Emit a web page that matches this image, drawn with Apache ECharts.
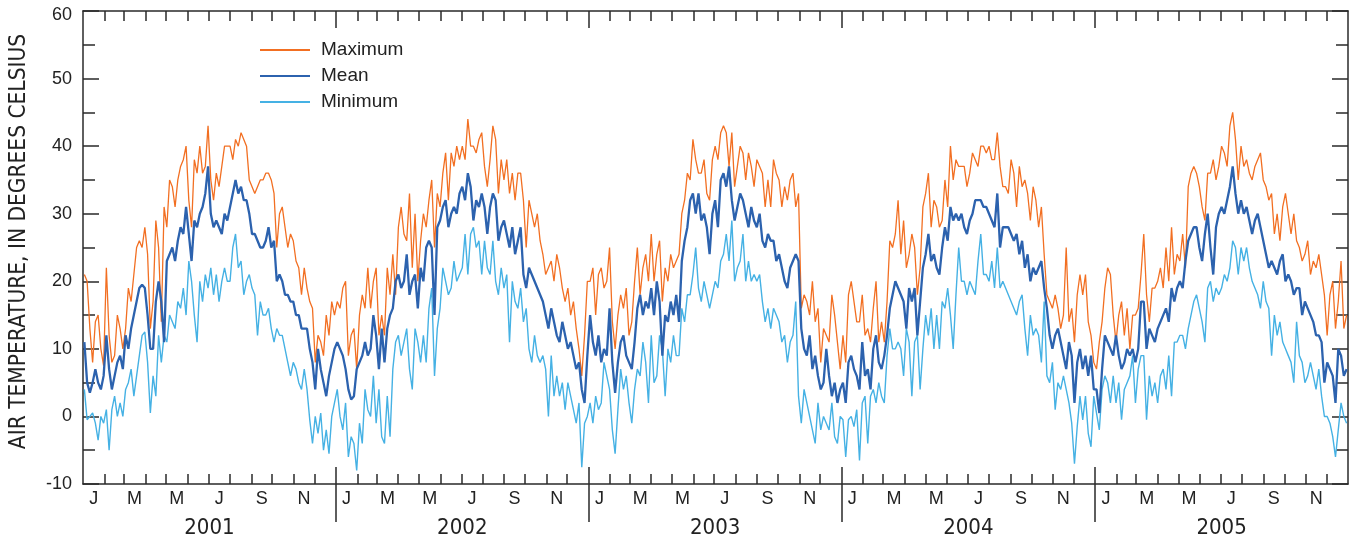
<!DOCTYPE html>
<html><head><meta charset="utf-8">
<script src="https://cdn.jsdelivr.net/npm/echarts@6/dist/echarts.min.js"></script>
<style>html,body{margin:0;padding:0;background:#fff}#c{width:1355px;height:541px}</style>
</head><body><div id="c"></div>
<script>
// ---- data (~4-day samples, evenly spaced through each year) ----
const years = [2001, 2002, 2003, 2004, 2005];
const monthLetters = ['J','F','M','A','M','J','J','A','S','O','N','D'];
const seriesNames = ['Maximum', 'Mean', 'Minimum'];

const max2001 = [21,20,13,8,14,15,10,7.5,22,12,8,9,15,13,10,13,19,17,21,25,26,25,28,24,13,17,29,25,14,31,28,35,34,31,35,37,38,40,32,28,38,36,40,36,37,43,35,32,36,34,37,40,40,40,38,41,40,42,41,40,35,34,33,34,35,35,36,36,35,33,25,30,31,28,25,27,26,23,22,18,22,19,17,16,8,12,11,9,15,12,17,15];
const mean2001 = [11,5,3.5,5,7,5,4,6,12,7,4,6,8,9,7,12,10,13,15,17,19,19.5,19,15,10,10,17,20,17,11,23,24,25,23,26,28,27,31,27,23,29,28,30,31,33,37,30,28,29,28,27,30,29,31,33,35,33,34,32,32,30,27,27,26,25,25,26,28,25,26,20,21,20,18,18,17,17,15,15,13,13,13,10,8,4,10,7,5,3,6,8,10];
const min2001 = [4,-0.5,0,0.5,-1,-3.5,0,-1,1,-5,1,3,0,2,0,4,5,7,3,6,9,12,12.5,8,0.5,6,3,12,8,12,11,15,14,13,17,16,19,15,23,20,15,11,20,17,21,19,22,18,21,17,20,22,20,20,25,27,22,23,18,20,21,19,18,12,17,15,15,16,13,11,13,12,12,10,8,6,8,7,5,4,7,4,-0.5,-4,0,-2.5,0.5,-5,-2,-5.5,0,2];

const max2002 = [17,16,19,20,9,12,13,7,15,18,16,22,16,20,22,12,15,12,22,18,24,18,28,31,27,26,33,22,30,20,26,30,28,32,35,25,33,31,36,39,32,39,37,40,38,40,38,44,40,40,39,41,42,37,34,38,43,41,33,38,35,38,33,36,32,36,36,32,25,32,30,28,30,26,24,21,22,23,20,24,22,19,17,19,15,17,13,10,6,12,20];
const mean2002 = [11,10,9,7,4,2.5,3,7,8,9,11,9,10,15,12,7,13,8,13,15,16,20,21,19,20,24,18,20,21,16,22,20,25,26,25,15,28,29,31,32,28,30,31,30,33,34,32,36,34,29,32,31,33,31,27,31,33,32,26,28,29,27,25,28,24,26,28,21,19,22,21,20,19,18,17,15,13,16,14,12,11,14,12,10,11,9,7,8,4,2,9];
const min2002 = [4,0,-2,2,-6,-3,-4,-8,-1,-4,4,1,0,6,-1,4,-3,-4,3,-3,7,11,12,9,11,13,7,4,13,11,8,12,8,16,19,6,13,16,22,20,18,19,23,20,21,22,27,21,27,28,25,26,21,26,22,21,26,20,18,22,19,21,11,20,17,16,19,14,16,10,8,12,9,8,9,7,0,9,3,6,3,5,1,5,3,1,-1,2,-7.5,-1,0];

const max2003 = [20,22,15,21,22,19,20,25,14,10,15,18,16,19,12,14,20,25,18,22,24,20,27,20,24,26,17,22,20,24,22,23,24,30,32,36,35,41,38,36,36,38,33,32,38,40,38,42,43,42,37,42,34,37,40,39,35,39,37,34,38,37,36,31,35,31,38,36,35,31,34,32,35,36,31,33,16,18,17,15,20,14,16,8,13,12,11,18,15,11,7];
const mean2003 = [15,11,9,12,8,10,9,16,8,3.5,8,11,12,9,8,7,11,16,18,15,17,16,19,15,20,17,9,15,14,17,15,18,14,23,26,28,32,33,30,33,29,30,28,24,30,32,28,35,36,34,37,32,29,31,33,32,30,28,31,29,28,30,26,25,27,26,26,23,24,22,20,19,22,23,24,23,13,10,9,12,7,9,6,4,5,10,6,3,5,2,4];
const min2003 = [2,-1,3,1,2,8,6,4,-2,-5.5,1,7,4,6,2,-1,4,7,6,11,8,2,12,5,6,12,10,3,10,8,12,9,9,16,14,18,18,21,25,19,17,20,18,16,18,20,19,23,24,27,23,29,20,22,23,27,20,23,20,21,20,21,17,14,16,13,16,15,14,11,12,8,11,12,17,3,-1,4,2,0,-2,-4,2,-2,0,-1,-2,2,-3,-4,0];

const max2004 = [12,8,18,20,17,14,14,18,12,13,11,16,20,11,14,11,17,26,25,27,32,24,29,22,24,27,25,18,22,31,33,36,28,32,31,28,29,35,31,40,35,38,37,37,37,34,36,39,38,37,40,40,39,40,38,38,42,37,34,34,33,38,36,31,37,34,35,33,29,34,32,28,31,24,18,17,16,18,16,13,15,25,14,16,11,18,21,18,21,14,12,8];
const mean2004 = [5,2,8,9,7,6,4,11,6,7,4,10,12,8,7,9,12,16,18,20,19,18,17,13,19,17,19,12,17,22,24,27,23,24,22,21,25,28,26,31,29,30,29,30,28,27,29,30,32,32,32,31,31,30,29,28,33,25,28,28,28,27,26,27,24,26,22,24,20,22,21,22,23,19,16,12,10,12,13,11,9,7,11,9,2,8,10,7,9,6,9,4];
const min2004 = [-0.5,-6,-0.5,0,-1.5,1,-6.5,2,3,-4,3,4,2,5,3,2,9,13,10,10,11,10,6,13,11,3,11,12,4,10,15,12,16,10,15,10,17,16,19,15,10,18,25,20,20,18,20,19,18,23,27,21,21,20,23,19,25,19,20,19,18,17,16,15,17,18,13,9,15,12,13,12,8,17,6,5,8,1,5,4,6,4,2,-1,-7,-1.5,3,-0.5,3,-2.5,-4.5,3];

const max2005 = [7,11,14,19,22,21,15,11,15,17,12,16,10,15,15,16,21,27,18,14,19,19,20,22,19,25,20,28,21,24,23,27,22,34,36,37,36,34,31,29,36,36,38,35,37,40,39,37,43,45,41,35,40,37,38,36,35,37,38,39,35,34,32,33,27,30,26,31,33,30,27,30,26,25,23,24,26,21,23,22,24,21,18,12,18,20,13,17,23,13,15];
const mean2005 = [4,0.5,7,12,11,10,9,12,9,7,8,10,9,10,8,10,17,17,10,13,12,11,13,14,15,16,14,19,17,19,20,19,23,26,27,28,28,25,23,27,30,25,21,28,30,31,30,32,34,37,33,30,32,30,31,29,27,29,30,28,26,24,22,23,22,21,23,24,20,21,20,18,19,19,15,17,16,15,14,12,12,11,5,8,7,6,2,10,9,6,7];
const min2005 = [0.5,-2,4,6,5,2,6,2,5,-0.5,4,5,6,9,2,7,9,9,-0.5,6,3,5,2,6,7,4,9,3,11,11,12,12,10,13,15,17,18,16,14,11,19,20,17,19,18,19,21,20,22,26,25,21,25,23,25,22,20,19,18,16,20,17,16,9,15,12,14,11,10,9,8,5,14,9,8,5,6,8,6,4,7,3,0,0,-1,-3,-6,-2,2,0,-1];

// ---- helpers ----
const DAY = 86400000;
const t0 = Date.UTC(years[0], 0, 1);
const dayOf = (y, m) => (Date.UTC(y, m, 1) - t0) / DAY;
const totalDays = dayOf(years[years.length - 1] + 1, 0);
const yearStart = years.map(y => dayOf(y, 0));
const yearLen = years.map(y => dayOf(y + 1, 0) - dayOf(y, 0));
function build(arrs) {
  const out = [];
  arrs.forEach((a, k) => a.forEach((v, i) => out.push([yearStart[k] + (i + 0.5) * yearLen[k] / a.length, v])));
  return out;
}
const monthTicks = [], monthMids = [], monthMidLabels = [];
years.forEach(y => {
  for (let m = 0; m < 12; m++) {
    const s = dayOf(y, m);
    if (s > 0) monthTicks.push(s);
    if (m % 2 === 0) {
      monthMids.push((s + dayOf(y, m + 1)) / 2);
      monthMidLabels.push(monthLetters[m]);
    }
  }
});
const yearTicks = yearStart.slice(1);
const yearMids = years.map((y, k) => yearStart[k] + yearLen[k] / 2);
function nearestLabel(v, vals, labels) {
  let best = 0, bd = Infinity;
  vals.forEach((x, i) => { const d = Math.abs(x - v); if (d < bd) { bd = d; best = i; } });
  return labels[best];
}

const AX = '#2a2a2a';
const axLine = { color: AX, width: 1.5 };
const FONT = '"Liberation Sans", Arial, sans-serif';
const NARROW = '"Liberation Sans Narrow", "DejaVu Sans Condensed", sans-serif';
const xBase = { type: 'value', min: 0, max: totalDays, splitLine: { show: false } };

const chart = echarts.init(document.getElementById('c'), null, { renderer: 'canvas' });
chart.setOption({
  animation: false,
  backgroundColor: '#fff',
  grid: { left: 83, right: 7, top: 11, bottom: 57, containLabel: false },
  legend: {
    data: seriesNames, orient: 'vertical', left: 259, top: 37, padding: 0, itemGap: 0,
    itemWidth: 50, itemHeight: 14,
    itemStyle: { opacity: 0 },
    textStyle: { fontSize: 19, lineHeight: 26, padding: [0, 0, 0, 6], color: '#222', fontFamily: FONT }
  },
  xAxis: [
    Object.assign({}, xBase, {
      position: 'bottom',
      axisLine: { show: true, onZero: false, lineStyle: axLine },
      axisTick: { show: true, inside: true, length: 10, customValues: monthTicks, lineStyle: axLine },
      axisLabel: { show: true, customValues: monthMids, formatter: v => nearestLabel(v, monthMids, monthMidLabels),
        margin: 6, fontSize: 18, color: '#222', fontFamily: FONT }
    }),
    Object.assign({}, xBase, {
      position: 'bottom',
      axisLine: { show: false, onZero: false },
      axisTick: { show: true, inside: false, length: 38, customValues: yearTicks, lineStyle: axLine },
      axisLabel: { show: true, customValues: yearMids, formatter: v => String(nearestLabel(v, yearMids, years)),
        margin: 33, fontSize: 22, color: '#222', fontFamily: NARROW }
    }),
    Object.assign({}, xBase, {
      position: 'bottom',
      axisLine: { show: false, onZero: false },
      axisTick: { show: true, inside: true, length: 17, customValues: yearTicks, lineStyle: axLine },
      axisLabel: { show: false }
    }),
    Object.assign({}, xBase, {
      position: 'top',
      axisLine: { show: true, onZero: false, lineStyle: axLine },
      axisTick: { show: true, inside: true, length: 10, customValues: monthTicks, lineStyle: axLine },
      axisLabel: { show: false }
    }),
    Object.assign({}, xBase, {
      position: 'top',
      axisLine: { show: false, onZero: false },
      axisTick: { show: true, inside: true, length: 17, customValues: yearTicks, lineStyle: axLine },
      axisLabel: { show: false }
    })
  ],
  yAxis: [
    {
      type: 'value', position: 'left', min: -10, max: 60, interval: 10,
      axisLine: { show: true, onZero: false, lineStyle: axLine },
      axisTick: { show: true, inside: true, length: 16, lineStyle: axLine },
      minorTick: { show: true, splitNumber: 2, length: 12, lineStyle: axLine },
      axisLabel: { margin: 11, fontSize: 18, color: '#222', fontFamily: FONT,
        formatter: v => (v === 60 ? '{top|60}' : String(v)),
        rich: { top: { fontSize: 18, color: '#222', fontFamily: FONT, padding: [8, 0, 0, 0] } } },
      splitLine: { show: false }, minorSplitLine: { show: false },
      name: 'AIR TEMPERATURE, IN DEGREES CELSIUS', nameLocation: 'middle', nameGap: 52, nameRotate: 90,
      nameTextStyle: { fontSize: 22.5, color: '#222', fontFamily: NARROW, padding: [0, 0, 0, 12] }
    },
    {
      type: 'value', position: 'right', min: -10, max: 60, interval: 10,
      axisLine: { show: true, onZero: false, lineStyle: axLine },
      axisTick: { show: true, inside: true, length: 16, lineStyle: axLine },
      minorTick: { show: true, splitNumber: 2, length: 12, lineStyle: axLine },
      axisLabel: { show: false },
      splitLine: { show: false }, minorSplitLine: { show: false }
    }
  ],
  series: [
    { name: 'Minimum', type: 'line', xAxisIndex: 0, yAxisIndex: 0, symbol: 'none', showSymbol: false,
      color: '#45b1e4', lineStyle: { width: 1.4, color: '#45b1e4' },
      data: build([min2001, min2002, min2003, min2004, min2005]) },
    { name: 'Maximum', type: 'line', xAxisIndex: 0, yAxisIndex: 0, symbol: 'none', showSymbol: false,
      color: '#f26f22', lineStyle: { width: 1.3, color: '#f26f22' },
      data: build([max2001, max2002, max2003, max2004, max2005]) },
    { name: 'Mean', type: 'line', xAxisIndex: 0, yAxisIndex: 0, symbol: 'none', showSymbol: false,
      color: '#2c62ae', lineStyle: { width: 2.3, color: '#2c62ae' },
      data: build([mean2001, mean2002, mean2003, mean2004, mean2005]) }
  ]
});
</script></body></html>
